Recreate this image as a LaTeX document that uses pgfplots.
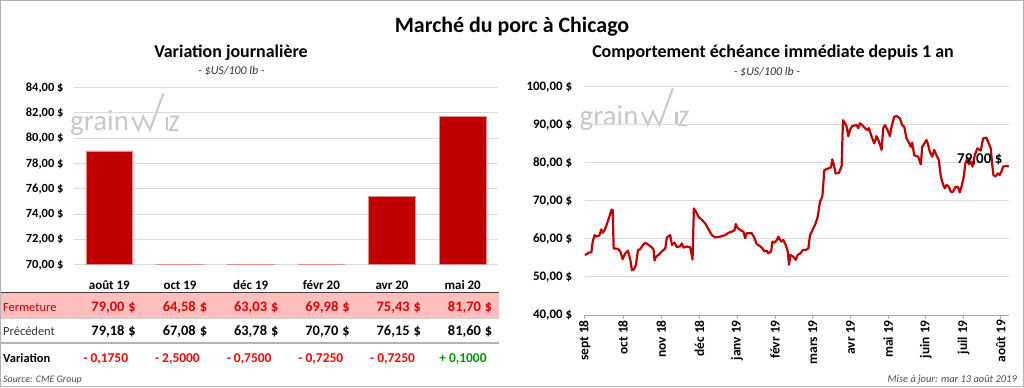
\documentclass[border=0pt]{standalone}
\usepackage{pgfplots}
\pgfplotsset{compat=1.18}
\usepackage{fontspec}
\setmainfont{Carlito}
\definecolor{barred}{RGB}{192,0,0}
\definecolor{linered}{RGB}{192,0,0}
\definecolor{pinkrow}{RGB}{255,191,191}
\definecolor{gridgray}{RGB}{217,217,217}
\definecolor{wmgray}{RGB}{200,200,200}
\definecolor{fermred}{RGB}{192,0,0}
\definecolor{valred}{RGB}{225,0,0}
\definecolor{varred}{RGB}{255,0,0}
\definecolor{vargreen}{RGB}{0,150,0}
\newcommand{\fs}[1]{\fontsize{#1}{#1}\selectfont}

\pgfplotstableread{
x y
218 55.8
225 56.0
230 56.4
238 56.5
242 59.3
248 61.0
252 60.6
262 60.9
268 62.5
272 61.6
278 62.3
285 64.0
292 65.8
298 67.6
302 67.6
305 57.5
318 57.4
325 56.7
332 54.7
340 56.2
348 56.9
355 54.5
360 51.8
366 52.0
372 53.2
378 57.1
385 57.3
392 58.3
400 59.0
410 58.4
420 57.8
425 57.1
428 54.3
432 55.3
440 55.8
450 56.7
460 57.5
465 60.4
475 61.0
480 58.4
488 59.0
495 57.8
505 58.1
510 58.8
515 57.7
525 58.0
535 57.8
542 54.6
546 68.0
552 67.2
560 65.8
570 65.0
580 64.1
590 62.5
600 61.0
610 60.4
625 60.6
640 61.0
650 61.6
660 61.9
668 62.3
672 63.9
678 62.8
688 62.2
695 61.9
700 60.2
705 61.5
720 61.5
728 60.2
735 58.6
745 58.1
752 57.5
758 56.7
765 56.9
770 56.2
778 56.7
782 59.3
788 59.0
795 59.7
800 60.6
808 59.3
815 59.7
822 58.4
828 56.7
832 53.2
836 55.8
845 55.3
852 54.5
858 55.8
866 56.2
874 57.1
882 57.1
890 57.5
895 61.0
905 62.8
912 64.1
918 65.8
925 69.8
932 71.1
938 78.1
950 78.5
958 78.8
962 80.9
968 79.0
972 77.2
982 77.4
990 79.2
994 91.2
1000 90.4
1005 89.5
1010 87.0
1015 88.6
1022 89.7
1035 89.9
1040 89.1
1045 90.4
1052 89.9
1060 89.1
1068 88.6
1072 89.1
1080 86.9
1088 85.1
1095 87.0
1102 85.6
1110 83.4
1115 89.1
1120 89.9
1128 88.6
1135 87.0
1140 89.5
1148 92.1
1155 92.3
1165 91.7
1172 89.9
1178 89.5
1185 86.4
1192 85.3
1198 84.2
1202 85.3
1208 82.0
1220 81.6
1225 80.3
1228 79.6
1232 84.2
1240 85.3
1245 86.0
1250 84.7
1255 82.9
1262 81.6
1268 83.4
1275 82.0
1282 80.7
1288 76.4
1295 74.2
1300 73.3
1305 74.2
1312 73.7
1318 72.4
1325 72.4
1332 73.7
1340 73.6
1345 72.2
1350 73.7
1356 75.9
1362 79.9
1368 81.2
1372 79.6
1378 80.3
1383 79.0
1390 82.0
1398 83.8
1408 83.2
1415 86.4
1425 86.6
1432 85.1
1438 83.8
1442 79.9
1446 76.8
1452 76.4
1460 77.2
1465 76.8
1470 77.7
1475 79.0
1485 79.2
1492 79.0
}\hogdata

\begin{document}
\begin{tikzpicture}[x=1bp,y=1bp]
\path[use as bounding box] (0,0) rectangle (1024,387);
\fill[white] (0,0) rectangle (1024,387);

% watermarks
\foreach \dx/\dy in {0/0, 509.5/5}{
\begin{scope}[shift={(\dx,\dy)}]
\node[anchor=base west, inner sep=0, text=wmgray] at (70,257) {\fs{29}grain};
\draw[wmgray, line width=2bp, line join=miter] (132.3,270.3) -- (138.3,257) -- (143.3,270.3) -- (150,257) -- (163.3,293.7);
\draw[wmgray, line width=2.2bp] (167,270.3) -- (167,257);
\draw[wmgray, line width=2bp] (170,270.3) -- (178,270.3) -- (170,257) -- (178,257);
\end{scope}
}

% titles
\node[anchor=base, font=\fs{22}\bfseries] at (512,355) {Marché du porc à Chicago};
\node[anchor=base, font=\fs{18}\bfseries] at (231,330) {Variation journalière};
\node[anchor=base, font=\fs{12}\itshape, text=black!80] at (231.5,313) {- \$US/100 lb -};
\node[anchor=base, font=\fs{18}\bfseries] at (773,330) {Comportement échéance immédiate depuis 1 an};
\node[anchor=base, font=\fs{12}\itshape, text=black!80] at (767,311.5) {- \$US/100 lb -};

% left bar chart
\begin{axis}[
  at={(74bp,122.2bp)}, anchor=south west, scale only axis,
  width=424bp, height=177.1bp,
  xmin=-0.5, xmax=5.5, ymin=70, ymax=84,
  axis line style={draw=none},
  ytick={70,72,...,84},
  yticklabels={{70,00 \$},{72,00 \$},{74,00 \$},{76,00 \$},{78,00 \$},{80,00 \$},{82,00 \$},{84,00 \$}},
  ymajorgrids, grid style={gridgray, line width=1bp},
  major tick length=0pt,
  xtick={0,...,5},
  xticklabels={{août 19},{oct 19},{déc 19},{févr 20},{avr 20},{mai 20}},
  xticklabel style={font=\fs{13}\bfseries, anchor=base, yshift=-24.7bp},
  yticklabel style={font=\fs{12.5}\bfseries, anchor=east, xshift=-7bp},
]
\addplot[ybar, bar width=46.7bp, fill=barred, draw=barred!45, line width=0.7bp] coordinates {(0,79.00) (1,64.58) (2,63.03) (3,69.98) (4,75.43) (5,81.70)};
\end{axis}

% right line chart
\begin{axis}[
  at={(584.7bp,72bp)}, anchor=south west, scale only axis,
  width=424bp, height=228.3bp,
  xmin=218, xmax=1492, ymin=40, ymax=100,
  axis x line*=bottom, axis y line*=left,
  y axis line style={draw=none},
  x axis line style={gray!70, line width=1bp},
  xtick={218,333,448,563,676,790,903,1017,1130,1243,1356,1468},
  xticklabels={{sept 18},{oct 18},{nov 18},{déc 18},{janv 19},{févr 19},{mars 19},{avr 19},{mai 19},{juin 19},{juil 19},{août 19}},
  xtick align=outside, major tick length=4bp,
  xtick style={gray!70, line width=0.8bp},
  ytick style={draw=none},
  xticklabel style={rotate=90, anchor=east, font=\fs{13.5}\bfseries, inner sep=1bp},
  ytick={40,50,...,100},
  yticklabels={{40,00 \$},{50,00 \$},{60,00 \$},{70,00 \$},{80,00 \$},{90,00 \$},{100,00 \$}},
  ymajorgrids, grid style={gridgray, line width=1bp},
  yticklabel style={font=\fs{13}\bfseries, anchor=east, xshift=-9bp},
  clip=false,
]
\addplot[linered, line width=2.2bp, line join=round] table[x=x,y=y] {\hogdata};
\node[font=\fs{15}\bfseries, anchor=center] at (axis cs:1405,80.9) {79,00 \$};
\end{axis}

% table
\fill[pinkrow] (0,69) rectangle (499,94);
\draw[black!75, line width=1.5bp] (0,94.3) -- (499,94.3);
\draw[gray!35, line width=0.8bp] (0,69) -- (499,69);
\draw[gray!60, line width=2bp] (0,44) -- (499,44);

\node[anchor=base west, inner sep=0, font=\fs{12.5}, text=fermred] at (3,76) {Fermeture};
\node[anchor=base west, inner sep=0, font=\fs{12.5}, text=black!80] at (3,51.3) {Précédent};
\node[anchor=base west, inner sep=0, font=\fs{12.5}\bfseries] at (3,24.7) {Variation};

\tikzset{fv/.style={anchor=base east, inner sep=0, font=\fs{14.5}\bfseries, text=valred},
         pv/.style={anchor=base east, inner sep=0, font=\fs{14.5}\bfseries, text=black},
         vv/.style={anchor=base east, inner sep=0, font=\fs{13.5}\bfseries, text=varred}}
\node[fv] at (136,76) {79,00\hspace{4bp}\$};
\node[fv] at (207.3,76) {64,58\hspace{4bp}\$};
\node[fv] at (278.6,76) {63,03\hspace{4bp}\$};
\node[fv] at (349.9,76) {69,98\hspace{4bp}\$};
\node[fv] at (421.2,76) {75,43\hspace{4bp}\$};
\node[fv] at (492.5,76) {81,70\hspace{4bp}\$};

\node[pv] at (136,51.3) {79,18\hspace{4bp}\$};
\node[pv] at (207.3,51.3) {67,08\hspace{4bp}\$};
\node[pv] at (278.6,51.3) {63,78\hspace{4bp}\$};
\node[pv] at (349.9,51.3) {70,70\hspace{4bp}\$};
\node[pv] at (421.2,51.3) {76,15\hspace{4bp}\$};
\node[pv] at (492.5,51.3) {81,60\hspace{4bp}\$};

\node[vv] at (128.3,24.7) {- 0,1750};
\node[vv] at (200,24.7) {- 2,5000};
\node[vv] at (271.7,24.7) {- 0,7500};
\node[vv] at (343.4,24.7) {- 0,7250};
\node[vv] at (415.1,24.7) {- 0,7250};
\node[vv, text=vargreen] at (486.8,24.7) {+ 0,1000};

% footer
\node[anchor=base west, inner sep=0, font=\fs{10}\itshape, text=black!70] at (3,5) {Source: CME Group};
\node[anchor=base east, inner sep=0, font=\fs{10.5}\itshape, text=black!70] at (1017,5) {Mise à jour: mar 13 août 2019};

% border
\draw[gray!60, line width=1.5bp] (0.75,0.75) rectangle (1023.25,386.25);
\end{tikzpicture}
\end{document}
